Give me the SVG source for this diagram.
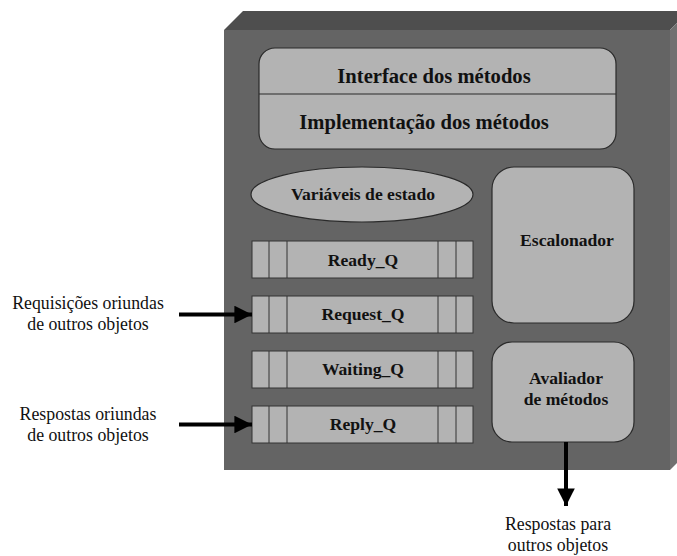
<svg xmlns="http://www.w3.org/2000/svg" width="677" height="556" viewBox="0 0 677 556">
<defs>
<style>
.box{fill:#b3b3b3;stroke:#2a2a2a;stroke-width:1.2}
.q{fill:#b3b3b3;stroke:#333;stroke-width:1}
.b{font-family:'Liberation Serif','Tinos','DejaVu Serif',serif;font-weight:bold;font-size:17.6px;fill:#111;text-anchor:middle}
.big{font-size:20.6px}
.t{font-family:'Liberation Serif','Tinos','DejaVu Serif',serif;font-size:17.8px;fill:#111;text-anchor:middle}
.ln{stroke:#000;stroke-width:4;fill:none}
</style>
<marker id="ah" viewBox="0 0 10 10" refX="10" refY="5" markerWidth="4.6" markerHeight="4.4" markerUnits="strokeWidth" orient="auto">
<path d="M0,0 L10,5 L0,10 Z" fill="#000"/>
</marker>
</defs>
<g id="object-block">
<polygon points="224,30 243,11 689,11 670,30" fill="#4e4e4e"/>
<polygon points="670,30 689,11 689,451 670,470" fill="#707070"/>
<rect x="224" y="30" width="446" height="440" fill="#646464"/>
</g>
<g id="interface">
<rect class="box" x="259" y="48" width="357" height="101" rx="16"/>
<line x1="259" y1="94" x2="616" y2="94" stroke="#2a2a2a" stroke-width="1.2"/>
<text class="b big" x="434" y="83">Interface dos métodos</text>
<text class="b big" x="424" y="129">Implementação dos métodos</text>
</g>
<g id="variaveis">
<ellipse class="box" cx="362" cy="194.5" rx="111" ry="27.5"/>
<text class="b" x="363" y="200">Variáveis de estado</text>
</g>
<g id="escalonador">
<rect class="box" x="492" y="167" width="142" height="156" rx="22"/>
<text class="b" x="567" y="246">Escalonador</text>
</g>
<g id="avaliador">
<rect class="box" x="492" y="342" width="142" height="100" rx="20"/>
<text class="b" x="566" y="384">Avaliador</text>
<text class="b" x="566" y="405">de métodos</text>
</g>
<g id="ready-q">
<rect class="q" x="252" y="241" width="221" height="37"/>
<path class="q" d="M269,241V278M287,241V278M438,241V278M456,241V278"/>
<text class="b" x="363" y="266">Ready_Q</text>
</g>
<g id="request-q">
<rect class="q" x="252" y="296" width="221" height="37"/>
<path class="q" d="M269,296V333M287,296V333M438,296V333M456,296V333"/>
<text class="b" x="363" y="320">Request_Q</text>
</g>
<g id="waiting-q">
<rect class="q" x="252" y="351" width="221" height="37"/>
<path class="q" d="M269,351V388M287,351V388M438,351V388M456,351V388"/>
<text class="b" x="363" y="375">Waiting_Q</text>
</g>
<g id="reply-q">
<rect class="q" x="252" y="406" width="221" height="37"/>
<path class="q" d="M269,406V443M287,406V443M438,406V443M456,406V443"/>
<text class="b" x="363" y="430">Reply_Q</text>
</g>
<g id="labels">
<text class="t" x="88" y="309">Requisições oriundas</text>
<text class="t" x="88" y="330">de outros objetos</text>
<text class="t" x="88" y="420">Respostas oriundas</text>
<text class="t" x="88" y="441">de outros objetos</text>
<text class="t" x="558" y="530">Respostas para</text>
<text class="t" x="558" y="551">outros objetos</text>
</g>
<g id="connectors">
<line class="ln" x1="179" y1="314.5" x2="252" y2="314.5" marker-end="url(#ah)"/>
<line class="ln" x1="179" y1="424.5" x2="252" y2="424.5" marker-end="url(#ah)"/>
<line class="ln" x1="566" y1="442" x2="566" y2="506" marker-end="url(#ah)"/>
</g>
</svg>
